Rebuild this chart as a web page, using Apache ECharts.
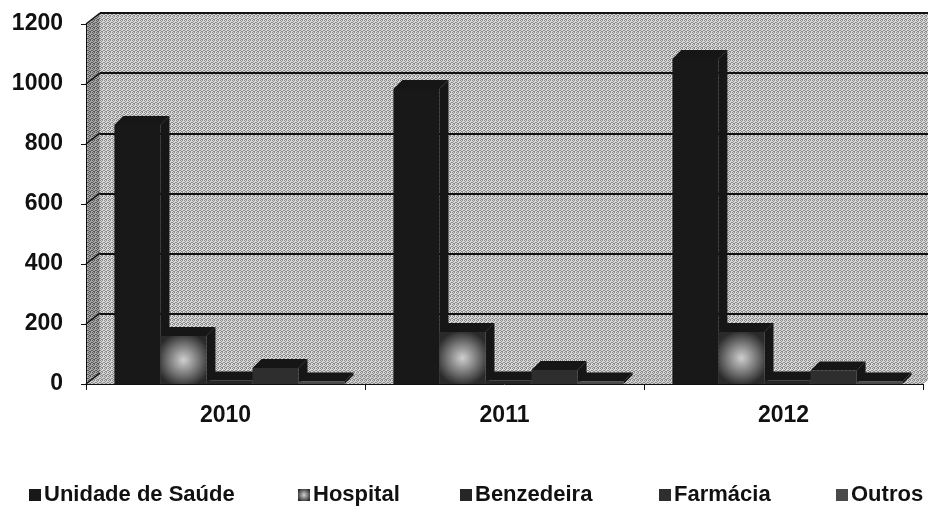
<!DOCTYPE html>
<html>
<head>
<meta charset="utf-8">
<script src="https://cdn.jsdelivr.net/npm/echarts@6/dist/echarts.min.js"></script>
<style>
html, body { margin: 0; padding: 0; background: #fff; }
#chart { width: 928px; height: 506px; }
</style>
</head>
<body>
<div id="chart"></div>
<script>
// dados
const years = ['2010', '2011', '2012'];
const seriesNames = ['Unidade de Saúde', 'Hospital', 'Benzedeira', 'Farmácia', 'Outros'];
const unidade = [863, 983, 1083];
const hospital = [160, 173, 173];
const benzedeira = [12, 12, 12];
const farmacia = [53, 47, 45];
const outros = [8, 8, 8];
const yTicks = [0, 200, 400, 600, 800, 1000, 1200];

const seriesData = [unidade, hospital, benzedeira, farmacia, outros];

// textura pontilhada (imitando o retículo da impressão)
function dither(light, dark) {
  const c = document.createElement('canvas');
  c.width = 4; c.height = 4;
  const g = c.getContext('2d');
  g.fillStyle = light;
  g.fillRect(0, 0, 4, 4);
  g.fillStyle = dark;
  [[0, 0], [2, 0], [1, 1], [3, 2], [0, 2], [2, 3], [1, 3]].forEach(p => g.fillRect(p[0], p[1], 1, 1));
  return { image: c, repeat: 'repeat' };
}

const backWall = dither('#dadada', '#8a8a8a');
const sideWall = dither('#a8a8a8', '#5a5a5a');
const floorFill = dither('#d2d2d2', '#8a8a8a');

const faceDark = '#161616';
const colors = [
  '#181818',
  { type: 'radial', x: 0.5, y: 0.5, r: 0.6,
    colorStops: [{ offset: 0, color: '#cfcfcf' }, { offset: 0.55, color: '#767676' }, { offset: 1, color: '#2a2a2a' }] },
  '#262626',
  '#2e2e2e',
  '#4a4a4a'
];
const legendLeft = [29, 298, 460, 659, 836];

const font = 'Liberation Sans, Arial, sans-serif';
const wallDx = 14, wallDy = -11;  // profundidade do fundo
const barD = 9;                   // profundidade das barras

const chart = echarts.init(document.getElementById('chart'));

function wallItem(params, api) {
  const cs = params.coordSys;
  const x = cs.x, y0 = cs.y + cs.height, x2 = cs.x + cs.width;
  const children = [
    { type: 'polygon', shape: { points: [[x, y0], [x, cs.y], [x + wallDx, cs.y + wallDy], [x + wallDx, y0 + wallDy]] },
      style: { fill: sideWall } },
    { type: 'polygon', shape: { points: [[x, y0], [x2, y0], [x2 + wallDx, y0 + wallDy], [x + wallDx, y0 + wallDy]] },
      style: { fill: floorFill } }
  ];
  yTicks.forEach(v => {
    const p = api.coord([0, v]);
    children.push({ type: 'line', shape: { x1: x, y1: p[1], x2: x + wallDx, y2: p[1] + wallDy },
      style: { stroke: '#111', lineWidth: 1.5 } });
  });
  return { type: 'group', children };
}

function barItem(k) {
  return function (params, api) {
    const idx = api.value(0), v = api.value(1);
    const p0 = api.coord([idx, 0]);
    const p1 = api.coord([idx, v]);
    const band = api.size([1, 0])[0];
    const w = band * 0.165;
    const x0 = p0[0] - 2.5 * w + k * w + 4;
    const x1 = x0 + w;
    const yb = p0[1], yt = p1[1];
    return {
      type: 'group',
      children: [
        { type: 'polygon', shape: { points: [[x1, yb], [x1, yt], [x1 + barD, yt - barD], [x1 + barD, yb - barD]] },
          style: { fill: faceDark } },
        { type: 'polygon', shape: { points: [[x0, yt], [x0 + barD, yt - barD], [x1 + barD, yt - barD], [x1, yt]] },
          style: { fill: faceDark } },
        { type: 'rect', shape: { x: x0, y: yt, width: w, height: yb - yt }, style: { fill: colors[k] } }
      ]
    };
  };
}

const series = [{
  type: 'custom',
  name: 'wall',
  xAxisIndex: 0, yAxisIndex: 0,
  data: [[0, 0]],
  renderItem: wallItem,
  clip: false,
  silent: true,
  z: 1
}];
seriesNames.forEach((n, k) => {
  series.push({
    type: 'custom',
    name: n,
    xAxisIndex: 0, yAxisIndex: 0,
    itemStyle: { color: colors[k] },
    data: seriesData[k].map((v, i) => [i, v]),
    renderItem: barItem(k),
    clip: false,
    z: 3
  });
});

const option = {
  animation: false,
  backgroundColor: '#fff',
  grid: [
    { left: 86, top: 24, width: 837, height: 360 },
    { left: 100, top: 13, width: 840, height: 361, show: true, backgroundColor: backWall, borderWidth: 0 }
  ],
  xAxis: [
    {
      type: 'category', gridIndex: 0, data: years,
      axisLine: { show: true, lineStyle: { color: '#111', width: 1 } },
      axisTick: { show: true, length: 6, lineStyle: { color: '#111' } },
      axisLabel: { margin: 20, fontSize: 23, fontWeight: 'bold', color: '#111', fontFamily: font },
      z: 4
    },
    { type: 'category', gridIndex: 1, data: years, show: false }
  ],
  yAxis: [
    {
      type: 'value', gridIndex: 0, min: 0, max: 1200, interval: 200,
      axisLine: { show: true, lineStyle: { color: '#111', width: 1 } },
      axisTick: { show: true, length: 5, lineStyle: { color: '#111' } },
      axisLabel: { margin: 23, fontSize: 23, fontWeight: 'bold', color: '#111', fontFamily: font,
        formatter: v => String(v) },
      splitLine: { show: false },
      z: 4
    },
    {
      type: 'value', gridIndex: 1, min: 0, max: 1200, interval: 200,
      axisLine: { show: false }, axisTick: { show: false }, axisLabel: { show: false },
      splitLine: { show: true, lineStyle: { color: '#111', width: 2 } }
    }
  ],
  legend: seriesNames.map((n, k) => ({
    data: [n],
    left: legendLeft[k],
    top: 484,
    padding: 0,
    icon: 'rect',
    itemWidth: 12,
    itemHeight: 12,
    selectedMode: false,
    textStyle: { fontSize: 22, fontWeight: 'bold', color: '#111', fontFamily: font, padding: [0, 0, 0, -2] }
  })),
  series
};

chart.setOption(option);
</script>
</body>
</html>
